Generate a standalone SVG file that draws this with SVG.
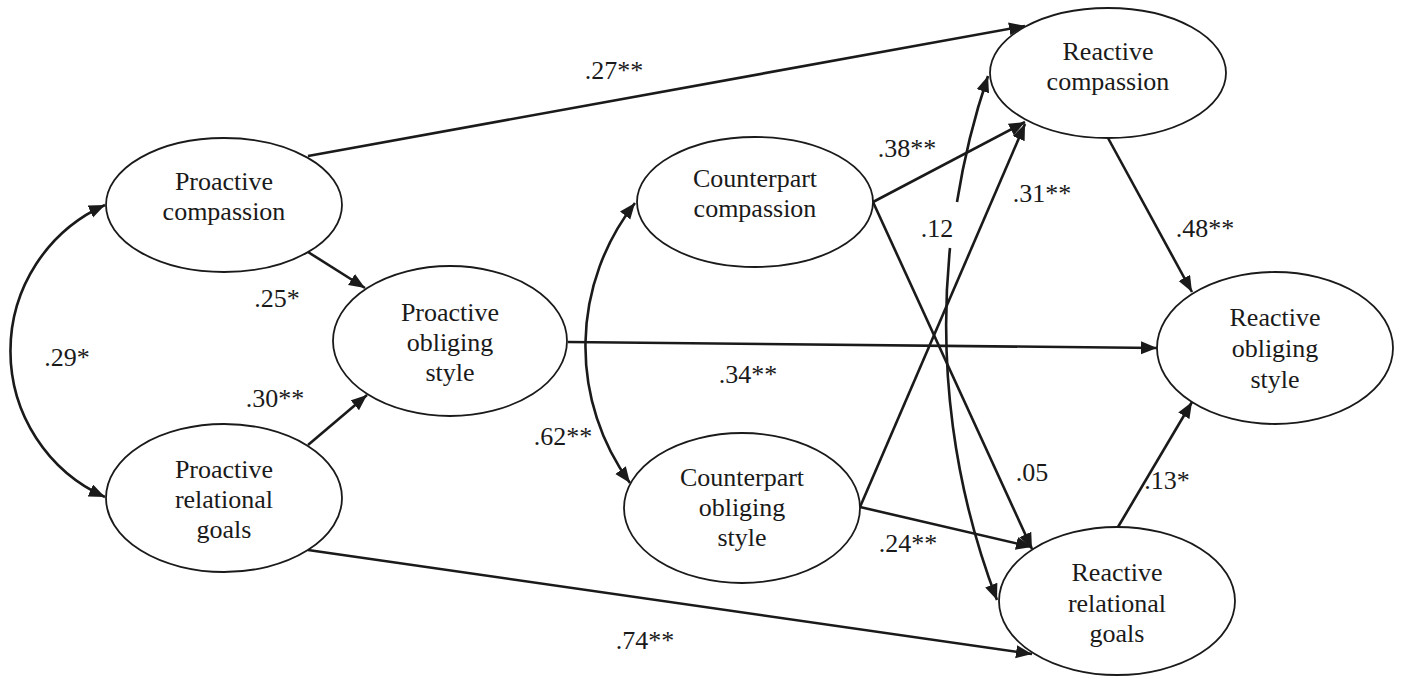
<svg xmlns="http://www.w3.org/2000/svg" width="1401" height="677" viewBox="0 0 1401 677">
<defs>
<marker id="ah" markerUnits="userSpaceOnUse" markerWidth="17" markerHeight="14" refX="16" refY="6.5" orient="auto-start-reverse">
<path d="M0,0 L16,6.5 L0,13 z" fill="#1a1a1a"/>
</marker>
</defs>
<style>
.node ellipse{fill:#fff;stroke:#1a1a1a;stroke-width:1.8}
.node text{font-family:"Liberation Serif","Times New Roman",serif;font-size:26px;fill:#1a1a1a;text-anchor:middle}
.conn line,.conn path{stroke:#1a1a1a;stroke-width:2.6;fill:none;marker-end:url(#ah)}
.conn .both{marker-start:url(#ah)}
.lbl text{font-family:"Liberation Serif","Times New Roman",serif;font-size:26px;fill:#1a1a1a;text-anchor:middle}
</style>
<rect width="1401" height="677" fill="#fff"/>
<g id="connectors" class="conn">
<line x1="308" y1="156" x2="1025" y2="26"/>
<line x1="308" y1="252" x2="365" y2="288"/>
<line x1="308" y1="445" x2="367" y2="395"/>
<line x1="568" y1="342" x2="1157" y2="348"/>
<line x1="308" y1="550" x2="1032" y2="654"/>
<line x1="873" y1="202" x2="1025" y2="122"/>
<line x1="873" y1="202" x2="1032" y2="549"/>
<line x1="860" y1="507" x2="1025" y2="124"/>
<line x1="860" y1="507" x2="1032" y2="547"/>
<line x1="1108" y1="138" x2="1192" y2="292"/>
<line x1="1118" y1="527" x2="1192" y2="402"/>
<path class="both" d="M105,205 A160,160 0 0 0 105,497"/>
<path class="both" d="M635,203 A232,232 0 0 0 630,483"/>
<path d="M957,202 A769,769 0 0 1 988,76"/>
<path d="M950,248 A769,769 0 0 0 997,600"/>
</g>
<g id="n-proactive-compassion" class="node">
<ellipse cx="224" cy="205" rx="118" ry="67"/>
<text x="224" y="190">Proactive</text>
<text x="224" y="220">compassion</text>
</g>
<g id="n-proactive-relational-goals" class="node">
<ellipse cx="224" cy="498" rx="118" ry="74"/>
<text x="224" y="478">Proactive</text>
<text x="224" y="508">relational</text>
<text x="224" y="538">goals</text>
</g>
<g id="n-proactive-obliging-style" class="node">
<ellipse cx="450" cy="341" rx="117" ry="75"/>
<text x="450" y="321">Proactive</text>
<text x="450" y="351">obliging</text>
<text x="450" y="381">style</text>
</g>
<g id="n-counterpart-compassion" class="node">
<ellipse cx="755" cy="202" rx="118" ry="65"/>
<text x="755" y="187">Counterpart</text>
<text x="755" y="217">compassion</text>
</g>
<g id="n-counterpart-obliging-style" class="node">
<ellipse cx="742" cy="508" rx="118" ry="75"/>
<text x="742" y="486">Counterpart</text>
<text x="742" y="516">obliging</text>
<text x="742" y="546">style</text>
</g>
<g id="n-reactive-compassion" class="node">
<ellipse cx="1108" cy="73" rx="118" ry="65"/>
<text x="1108" y="60">Reactive</text>
<text x="1108" y="90">compassion</text>
</g>
<g id="n-reactive-obliging-style" class="node">
<ellipse cx="1275" cy="348" rx="118" ry="76"/>
<text x="1275" y="326">Reactive</text>
<text x="1275" y="357">obliging</text>
<text x="1275" y="388">style</text>
</g>
<g id="n-reactive-relational-goals" class="node">
<ellipse cx="1117" cy="601" rx="118" ry="74"/>
<text x="1117" y="581">Reactive</text>
<text x="1117" y="612">relational</text>
<text x="1117" y="642">goals</text>
</g>
<g id="labels" class="lbl">
<text x="614" y="79">.27**</text>
<text x="277" y="307">.25*</text>
<text x="67" y="366">.29*</text>
<text x="275" y="407">.30**</text>
<text x="748" y="383">.34**</text>
<text x="563" y="445">.62**</text>
<text x="907" y="157">.38**</text>
<text x="937" y="237">.12</text>
<text x="1042" y="202">.31**</text>
<text x="1205" y="237">.48**</text>
<text x="1032" y="481">.05</text>
<text x="1167" y="489">.13*</text>
<text x="908" y="552">.24**</text>
<text x="645" y="649">.74**</text>
</g>
</svg>
